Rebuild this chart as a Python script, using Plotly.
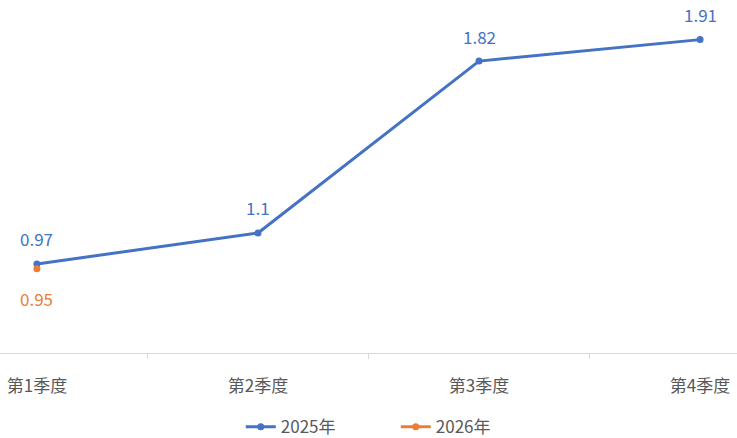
import plotly.graph_objects as go

categories = ["第1季度", "第2季度", "第3季度", "第4季度"]
series_2025 = [0.97, 1.1, 1.82, 1.91]
series_2026 = [0.95, None, None, None]
labels_2025 = ["0.97", "1.1", "1.82", "1.91"]
labels_2026 = ["0.95"]

BLUE = "#4472C4"
ORANGE = "#ED7D31"
FONT = "Noto Sans CJK SC"

fig = go.Figure()
fig.add_trace(go.Scatter(x=categories, y=series_2025, name="2025年", mode="lines+markers",
                         line=dict(color=BLUE, width=3), marker=dict(size=7, color=BLUE)))
fig.add_trace(go.Scatter(x=categories, y=series_2026, name="2026年", mode="lines+markers",
                         line=dict(color=ORANGE, width=3), marker=dict(size=7, color=ORANGE)))

for c, v, t in zip(categories, series_2025, labels_2025):
    fig.add_annotation(x=c, y=v, text=t, showarrow=False, yshift=25,
                       font=dict(family=FONT, size=17, color=BLUE))
for c, v, t in zip(categories, series_2026, labels_2026):
    fig.add_annotation(x=c, y=v, text=t, showarrow=False, yshift=-30,
                       font=dict(family=FONT, size=17, color=ORANGE))

fig.update_layout(
    width=737, height=438,
    margin=dict(l=0, r=0, t=0, b=85, autoexpand=False),
    paper_bgcolor="white", plot_bgcolor="white",
    font=dict(family=FONT, size=16, color="#595959"),
    showlegend=True,
    legend=dict(orientation="h", x=0.537, xanchor="center", y=-0.21, yanchor="middle",
                font=dict(family=FONT, size=17, color="#595959"), itemwidth=30,
                entrywidth=110),
    xaxis=dict(range=[-0.167, 3.167], showgrid=False, showline=True, linecolor="#d9d9d9",
               linewidth=1, ticks="outside", tickson="boundaries", ticklen=5, tickcolor="#d9d9d9",
               tickfont=dict(family=FONT, size=17, color="#595959"), zeroline=False,
               automargin=False, ticklabelstandoff=18),
    yaxis=dict(range=[0.597, 2.076], visible=False, showgrid=False, zeroline=False,
               automargin=False),
)

fig.write_html("out.html", config={"displayModeBar": False},
               post_script="document.body.style.margin='0';document.body.style.overflow='hidden';")
